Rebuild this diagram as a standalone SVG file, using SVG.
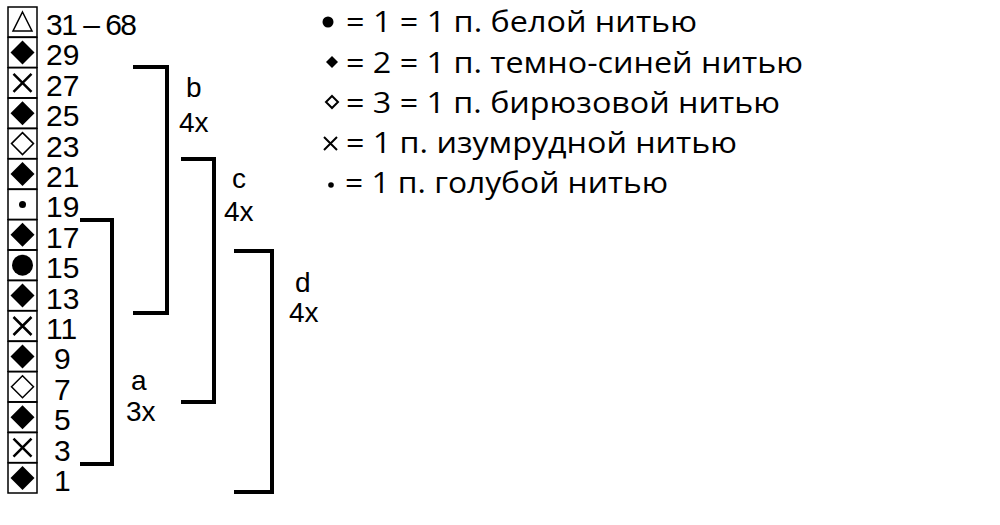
<svg xmlns="http://www.w3.org/2000/svg" width="1000" height="525" viewBox="0 0 1000 525">
<style>
.box{fill:#fff;stroke:#000;stroke-width:1.5}
.num{font-family:"Liberation Sans",Arial,sans-serif;font-size:30px;fill:#000}
.lab{font-family:"Liberation Sans",Arial,sans-serif;font-size:28px;fill:#000}
.leg{font-family:"Open Sans","Noto Sans",sans-serif;font-size:30px;fill:#000}
.br{fill:none;stroke:#000;stroke-width:4}
.fill{fill:#000}
.out{fill:#fff;stroke:#000;stroke-width:1.5}
.x{stroke:#000;stroke-width:2.5}
</style>
<defs>
<g id="dia"><polygon points="0,-12 12,0 0,12 -12,0" class="fill"/></g>
<g id="odia"><polygon points="0,-11 11,0 0,11 -11,0" class="out"/></g>
<g id="cross"><path d="M-9,-9 L9,9 M9,-9 L-9,9" class="x"/></g>
</defs>
<rect x="0" y="0" width="1000" height="525" fill="#fff"/>
<g id="chart">
<g id="row31"><rect class="box" x="8" y="7" width="29" height="30"/><polygon points="22.5,12 32,31 13,31" class="out"/><text class="num" x="46" y="35" textLength="91" lengthAdjust="spacing">31 – 68</text></g>
<g id="row29"><rect class="box" x="8" y="37.4" width="29" height="30"/><use href="#dia" x="22.5" y="52.4"/><text class="num" x="46" y="65.4">29</text></g>
<g id="row27"><rect class="box" x="8" y="67.8" width="29" height="30"/><use href="#cross" x="22.5" y="82.8"/><text class="num" x="46" y="95.8">27</text></g>
<g id="row25"><rect class="box" x="8" y="98.2" width="29" height="30"/><use href="#dia" x="22.5" y="113.2"/><text class="num" x="46" y="126.2">25</text></g>
<g id="row23"><rect class="box" x="8" y="128.6" width="29" height="30"/><use href="#odia" x="22.5" y="143.6"/><text class="num" x="46" y="156.6">23</text></g>
<g id="row21"><rect class="box" x="8" y="159" width="29" height="30"/><use href="#dia" x="22.5" y="174"/><text class="num" x="46" y="187">21</text></g>
<g id="row19"><rect class="box" x="8" y="189.4" width="29" height="30"/><circle cx="22.5" cy="204.4" r="3.5" class="fill"/><text class="num" x="46" y="217.4">19</text></g>
<g id="row17"><rect class="box" x="8" y="219.8" width="29" height="30"/><use href="#dia" x="22.5" y="234.8"/><text class="num" x="46" y="247.8">17</text></g>
<g id="row15"><rect class="box" x="8" y="250.2" width="29" height="30"/><circle cx="22.5" cy="265.2" r="10.5" class="fill"/><text class="num" x="46" y="278.2">15</text></g>
<g id="row13"><rect class="box" x="8" y="280.6" width="29" height="30"/><use href="#dia" x="22.5" y="295.6"/><text class="num" x="46" y="308.6">13</text></g>
<g id="row11"><rect class="box" x="8" y="311" width="29" height="30"/><use href="#cross" x="22.5" y="326"/><text class="num" x="46" y="339">11</text></g>
<g id="row9"><rect class="box" x="8" y="341.4" width="29" height="30"/><use href="#dia" x="22.5" y="356.4"/><text class="num" x="54" y="369.4">9</text></g>
<g id="row7"><rect class="box" x="8" y="371.8" width="29" height="30"/><use href="#odia" x="22.5" y="386.8"/><text class="num" x="54" y="399.8">7</text></g>
<g id="row5"><rect class="box" x="8" y="402.2" width="29" height="30"/><use href="#dia" x="22.5" y="417.2"/><text class="num" x="54" y="430.2">5</text></g>
<g id="row3"><rect class="box" x="8" y="432.6" width="29" height="30"/><use href="#cross" x="22.5" y="447.6"/><text class="num" x="54" y="460.6">3</text></g>
<g id="row1"><rect class="box" x="8" y="463" width="29" height="30"/><use href="#dia" x="22.5" y="478"/><text class="num" x="54" y="491">1</text></g>
</g>
<g id="connectors">
<path class="br" d="M80,220 H112 V464 H80"/>
<path class="br" d="M133,67 H167 V313 H133"/>
<path class="br" d="M181,159 H214 V402 H181"/>
<path class="br" d="M234,251 H272 V492 H234"/>
</g>
<g id="labels">
<text class="lab" x="131" y="390">a</text><text class="lab" x="126" y="421">3x</text>
<text class="lab" x="186" y="97">b</text><text class="lab" x="179" y="132">4x</text>
<text class="lab" x="232" y="188">c</text><text class="lab" x="224" y="221">4x</text>
<text class="lab" x="295" y="292">d</text><text class="lab" x="289" y="322">4x</text>
</g>
<g id="legend">
<circle cx="328" cy="22" r="5.5" class="fill"/>
<text class="leg" x="346" y="32" textLength="351" lengthAdjust="spacingAndGlyphs">= 1 = 1 п. белой нитью</text>
<polygon points="332,56 338,62 332,68 326,62" class="fill"/>
<text class="leg" x="346" y="73" textLength="457" lengthAdjust="spacingAndGlyphs">= 2 = 1 п. темно-синей нитью</text>
<polygon points="332,96 338,102 332,108 326,102" fill="#fff" stroke="#000" stroke-width="2"/>
<text class="leg" x="346" y="113" textLength="434" lengthAdjust="spacingAndGlyphs">= 3 = 1 п. бирюзовой нитью</text>
<path d="M324,137 L337,150 M337,137 L324,150" stroke="#000" stroke-width="2"/>
<text class="leg" x="346" y="153" textLength="391" lengthAdjust="spacingAndGlyphs">= 1 п. изумрудной нитью</text>
<circle cx="331" cy="185" r="2.8" class="fill"/>
<text class="leg" x="345" y="193" textLength="323" lengthAdjust="spacingAndGlyphs">= 1 п. голубой нитью</text>
</g>
</svg>
